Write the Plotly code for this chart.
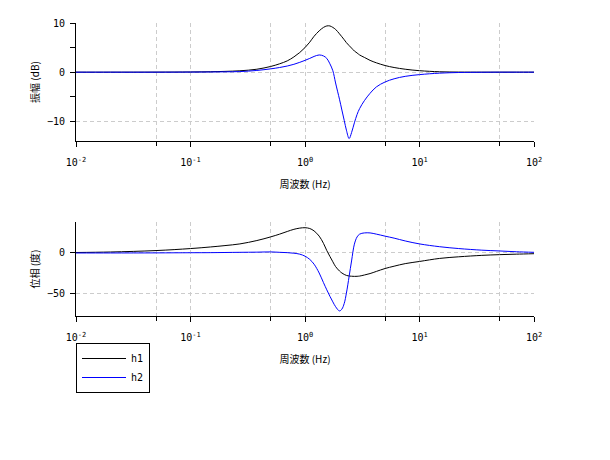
import plotly.graph_objects as go

freq = [0.01, 0.02, 0.05, 0.1, 0.15, 0.2, 0.27, 0.38, 0.5, 0.6, 0.7, 0.8, 0.9, 1.0,
        1.1, 1.2, 1.33, 1.45, 1.55, 1.65, 1.75, 1.85, 2.0, 2.1, 2.2, 2.3, 2.43, 2.55,
        2.7, 2.85, 3.0, 3.3, 3.7, 4.2, 5.0, 6.0, 7.5, 10, 15, 22, 35, 50, 70, 100]

h1_mag = [0.0, 0.0, 0.01, 0.04, 0.09, 0.16, 0.28, 0.6, 1.15, 1.7, 2.3, 3.1, 4.0, 5.0,
          6.1, 7.3, 8.4, 9.1, 9.4, 9.4, 9.1, 8.7, 7.8, 7.2, 6.6, 6.0, 5.4, 4.9,
          4.3, 3.9, 3.5, 3.0, 2.4, 1.9, 1.35, 0.95, 0.6, 0.3, 0.08, 0.02, 0.0, 0.0, 0.0, 0.0]

h2_mag = [0.0, 0.0, 0.0, 0.02, 0.04, 0.07, 0.12, 0.35, 0.67, 0.95, 1.25, 1.6, 2.0, 2.4,
          2.8, 3.2, 3.5, 3.3, 2.8, 1.7, 0.3, -2.2, -5.5, -7.7, -9.8, -11.8, -13.5, -12.3,
          -10.3, -8.6, -7.4, -5.8, -4.3, -3.0, -2.0, -1.35, -0.85, -0.5, -0.2, -0.07, -0.02, 0.0, 0.0, 0.0]

h1_phase = [0.6, 1.2, 3.0, 5.5, 7.5, 9.2, 11.3, 15.5, 20, 23.5, 26.8, 29.5, 31, 31.5,
            30.5, 27.5, 21, 12, 3, -4.3, -11, -17, -22.5, -25, -26.8, -28, -28.8, -29,
            -29.2, -29.1, -28.8, -27.5, -25.7, -23, -19.4, -16.5, -13.3, -10.6, -6.8, -4.8, -3.0, -2.1, -1.5, -0.9]

h2_phase = [0.0, 0.0, 0.1, 0.3, 0.4, 0.6, 0.8, 1.0, 1.3, 0.8, 0.4, -0.3, -1.5, -4,
            -8, -14, -25, -37, -46, -54, -61, -67, -72.3, -70, -63, -50, -29, -10,
            11, 20, 23.5, 25, 25, 23.5, 21, 18.5, 15, 11.3, 7.8, 5.5, 3.5, 2.5, 1.5, 0.8]

series_names = ["h1", "h2"]
series_colors = ["#000000", "#0000ff"]

x_tickvals = [0.01, 0.1, 1, 10, 100]
x_ticktext = ["10<sup>-2</sup>", "10<sup>-1</sup>", "10<sup>0</sup>", "10<sup>1</sup>", "10<sup>2</sup>"]
x_minor = [0.05, 0.5, 5, 50]

mag_ticks = [-10, 0, 10]
mag_minor = [-5, 5]
phase_ticks = [-50, 0]

fig = go.Figure()
for name, color, mag in zip(series_names, series_colors, [h1_mag, h2_mag]):
    fig.add_trace(go.Scatter(x=freq, y=mag, mode="lines", name=name,
                             line=dict(color=color, width=1), xaxis="x", yaxis="y",
                             showlegend=False, line_shape="spline"))
for name, color, ph in zip(series_names, series_colors, [h1_phase, h2_phase]):
    fig.add_trace(go.Scatter(x=freq, y=ph, mode="lines", name=name,
                             line=dict(color=color, width=1), xaxis="x2", yaxis="y2",
                             showlegend=True, line_shape="spline"))

W, H = 610, 460
OFF = 8  # page body margin
tickfont = dict(family="DejaVu Sans Mono", size=10, color="#000000")
titlefont = dict(family="Noto Sans CJK JP", size=10, color="#000000")
GRID = "#cccccc"
DASH = "4px,3px"

def px_x(v):
    return (v - OFF) / W

def px_y(v):
    return 1 - (v - OFF) / H

def xaxis_cfg(anchor):
    return dict(
        type="log", range=[-2, 2], domain=[px_x(76), px_x(534)], anchor=anchor,
        automargin=False,
        tickvals=x_tickvals, ticktext=x_ticktext, tickfont=tickfont,
        ticks="outside", ticklen=5, tickcolor="#000000",
        showline=True, linecolor="#000000", linewidth=1, mirror=False,
        showgrid=True, gridcolor=GRID, griddash=DASH, gridwidth=1,
        minor=dict(tickvals=x_minor, ticks="outside", ticklen=4, tickcolor="#000000",
                   showgrid=True, gridcolor=GRID, griddash=DASH),
        zeroline=False, ticklabelstandoff=7,
        title=dict(text="周波数 (Hz)", font=titlefont, standoff=13),
    )

fig.update_layout(
    width=W, height=H, margin=dict(l=0, r=0, t=0, b=0, autoexpand=False),
    paper_bgcolor="#ffffff", plot_bgcolor="#ffffff",
    xaxis=xaxis_cfg("y"),
    xaxis2=xaxis_cfg("y2"),
    yaxis=dict(
        domain=[px_y(141), px_y(23)], range=[-14, 10], anchor="x", automargin=False,
        tickvals=mag_ticks, tickfont=tickfont, ticks="outside", ticklen=5,
        tickcolor="#000000", showline=True, linecolor="#000000", linewidth=1,
        showgrid=True, gridcolor=GRID, griddash=DASH, zeroline=False,
        minor=dict(tickvals=mag_minor, ticks="outside", ticklen=5, tickcolor="#000000", showgrid=False),
        title=dict(text="振幅 (dB)", font=titlefont, standoff=5),
        ticklabelstandoff=3,
    ),
    yaxis2=dict(
        domain=[px_y(316.3), px_y(221.7)], range=[-79, 39], anchor="x2", automargin=False,
        tickvals=phase_ticks, tickfont=tickfont, ticks="outside", ticklen=5,
        tickcolor="#000000", showline=True, linecolor="#000000", linewidth=1,
        showgrid=True, gridcolor=GRID, griddash=DASH, zeroline=False,
        title=dict(text="位相 (度)", font=titlefont, standoff=5),
        ticklabelstandoff=3,
    ),
    legend=dict(x=px_x(76), y=px_y(343), xanchor="left", yanchor="top",
                bgcolor="#ffffff", bordercolor="#000000", borderwidth=1,
                font=dict(family="DejaVu Sans Mono", size=10, color="#000000"),
                tracegroupgap=0, itemwidth=44),
    showlegend=True,
)

fig.write_html("out.html")
